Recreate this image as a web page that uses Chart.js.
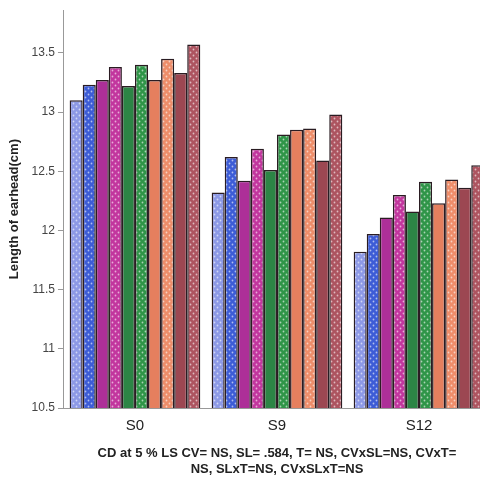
<!DOCTYPE html>
<html>
<head>
<meta charset="utf-8">
<script src="https://cdn.jsdelivr.net/npm/chart.js@4/dist/chart.umd.min.js"></script>
<style>
	html, body { margin: 0; padding: 0; background: #fff; overflow: hidden; }
	#chart { display: block; }
</style>
</head>
<body>
<canvas id="chart" width="490" height="484"></canvas>
<script>
const categories = ["S0", "S9", "S12"];
const seriesNames = ["T1", "T2", "T3", "T4", "T5", "T6", "T7", "T8", "T9", "T10"];

// one value per series, in drawing order, for each stage
const s0Values = [13.10, 13.23, 13.27, 13.38, 13.22, 13.40, 13.27, 13.45, 13.33, 13.57];
const s9Values = [12.32, 12.62, 12.42, 12.69, 12.51, 12.81, 12.85, 12.86, 12.59, 12.98];
const s12Values = [11.82, 11.97, 12.11, 12.30, 12.16, 12.41, 12.23, 12.43, 12.36, 12.55];

const yTicks = [10.5, 11, 11.5, 12, 12.5, 13, 13.5];

const fills = ["#8d99e6", "#3d5cd6", "#ad2f98", "#c2369e", "#2c8545", "#2f9548", "#e57f5e", "#ee8d6a", "#9c4752", "#ad5460"];
const dotted = [true, true, false, true, false, true, false, true, false, true];

/**
* @param {string} color
* @returns {CanvasPattern}
* */
function dotPattern(color) {
	const $c = document.createElement("canvas");
	$c.width = 6;
	$c.height = 6;
	const ctx = $c.getContext("2d");
	ctx.fillStyle = color;
	ctx.fillRect(0, 0, 6, 6);
	ctx.fillStyle = "rgba(255,255,255,0.6)";
	ctx.beginPath();
	ctx.arc(1.5, 1.5, 0.9, 0, Math.PI * 2);
	ctx.fill();
	ctx.beginPath();
	ctx.arc(4.5, 4.5, 0.9, 0, Math.PI * 2);
	ctx.fill();
	return document.createElement("canvas").getContext("2d").createPattern($c, "repeat");
}

const stages = [s0Values, s9Values, s12Values];
const datasets = seriesNames.map((name, i) => ({
	label: name,
	data: stages.map(row => row[i]),
	backgroundColor: dotted[i] ? dotPattern(fills[i]) : fills[i],
	borderColor: "#2a1c22",
	borderWidth: 1.5,
	barPercentage: 1,
	categoryPercentage: 0.92
}));

Chart.defaults.font.family = "'Liberation Sans', Arial, sans-serif";

new Chart(document.getElementById("chart"), {
	type: "bar",
	data: { labels: categories, datasets },
	options: {
		responsive: false,
		animation: false,
		layout: { padding: { top: 0, left: 3, right: 0, bottom: 6.5 } },
		plugins: { legend: { display: false }, tooltip: { enabled: false } },
		scales: {
			x: {
				grid: { display: false },
				border: { display: true, color: "#999", width: 1 },
				ticks: { color: "#222", font: { size: 15 }, padding: 1 },
				title: {
					display: true,
					text: ["CD at 5 % LS CV= NS, SL= .584, T= NS, CVxSL=NS, CVxT=", "NS, SLxT=NS, CVxSLxT=NS"],
					color: "#222",
					font: { size: 13, weight: "bold", lineHeight: 1.25 },
					padding: { top: 9, bottom: 0 }
				}
			},
			y: {
				min: 10.5,
				max: 13.86,
				afterBuildTicks: axis => { axis.ticks = yTicks.map(v => ({ value: v })); },
				grid: { drawOnChartArea: false, drawTicks: true, tickLength: 6, color: "#999" },
				border: { display: true, color: "#999", width: 1 },
				ticks: { color: "#444", font: { size: 12 }, padding: 3, callback: v => String(v) },
				title: {
					display: true,
					text: "Length of earhead(cm)",
					color: "#222",
					font: { size: 13, weight: "bold" },
					padding: { bottom: 6 }
				}
			}
		}
	}
});
</script>
</body>
</html>
